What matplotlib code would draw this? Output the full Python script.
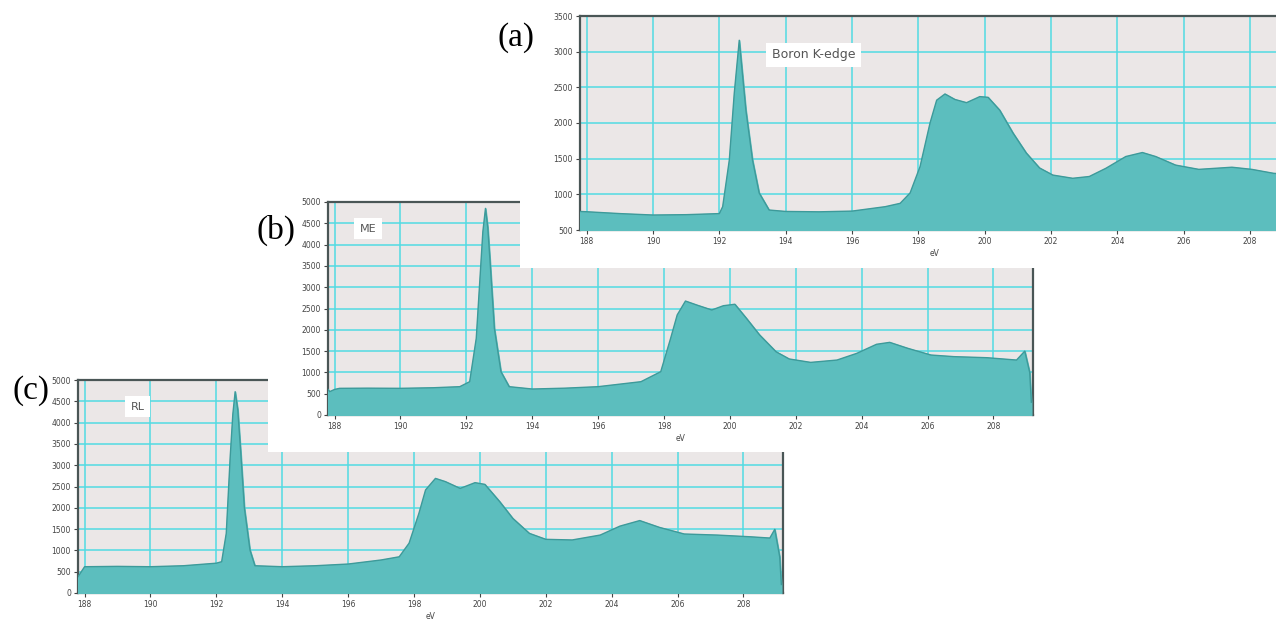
import matplotlib.pyplot as plt
from matplotlib.patches import Rectangle
import numpy as np

# --- data (energy in eV, counts) ---
ev_a = [187.8, 188.0, 189.0, 190.0, 191.0, 192.0, 192.1, 192.3, 192.45, 192.6, 192.8, 193.0, 193.2,
        193.5, 194.0, 195.0, 196.0, 197.0, 197.45, 197.75, 198.05, 198.35, 198.55, 198.8, 199.1,
        199.45, 199.85, 200.1, 200.45, 200.85, 201.25, 201.65, 202.05, 202.65, 203.15, 203.65,
        204.25, 204.75, 205.15, 205.75, 206.45, 207.45, 208.05, 208.7, 209.1]
counts_a = [760, 756, 730, 710, 715, 730, 827, 1480, 2420, 3160, 2180, 1480, 1020,
            780, 760, 755, 765, 827, 874, 1020, 1390, 2000, 2320, 2407, 2330,
            2285, 2370, 2360, 2180, 1860, 1580, 1370, 1270, 1225, 1250, 1365,
            1530, 1586, 1530, 1410, 1350, 1380, 1350, 1295, 1280]

ev_b = [187.8, 187.85, 188.0, 188.15, 189.0, 190.0, 191.0, 191.8, 192.1, 192.3, 192.42, 192.5,
        192.58, 192.65, 192.72, 192.85, 193.05, 193.3, 194.0, 195.0, 196.0, 197.3, 197.9, 198.2,
        198.4, 198.65, 199.0, 199.45, 199.8, 200.15, 200.5, 200.9, 201.4, 201.8, 202.45, 203.25,
        203.85, 204.45, 204.85, 205.4, 206.1, 206.8, 207.8, 208.7, 208.95, 209.1, 209.15]
counts_b = [600, 548, 600, 626, 630, 626, 640, 665, 782, 1800, 3300, 4300,
            4850, 4400, 3600, 2035, 1017, 665, 610, 630, 665, 782, 1017, 1800,
            2350, 2675, 2580, 2465, 2565, 2600, 2270, 1880, 1485, 1315, 1235, 1290,
            1447, 1660, 1705, 1565, 1408, 1370, 1345, 1290, 1500, 1000, 300]

ev_c = [187.8, 188.0, 189.0, 190.0, 191.0, 192.0, 192.16, 192.3, 192.42, 192.5, 192.57, 192.65,
        192.74, 192.85, 193.02, 193.17, 194.0, 195.0, 196.0, 197.0, 197.55, 197.85, 198.15,
        198.35, 198.65, 198.95, 199.4, 199.85, 200.15, 200.6, 201.0, 201.5, 202.0, 202.8,
        203.65, 204.25, 204.85, 205.45, 206.2, 207.2, 208.2, 208.8, 208.95, 209.1, 209.15]
counts_c = [383, 617, 625, 617, 640, 700, 735, 1400, 3200, 4200, 4725, 4300,
            3300, 2000, 1010, 640, 617, 640, 680, 775, 850, 1170, 1875,
            2420, 2690, 2615, 2455, 2590, 2550, 2145, 1750, 1400, 1260, 1245,
            1360, 1570, 1700, 1540, 1385, 1360, 1320, 1290, 1495, 850, 200]

xticks = [188, 190, 192, 194, 196, 198, 200, 202, 204, 206, 208]
yticks_a = [500, 1000, 1500, 2000, 2500, 3000, 3500]
yticks_bc = [0, 500, 1000, 1500, 2000, 2500, 3000, 3500, 4000, 4500, 5000]

W, H = 1276, 625
FILL = '#5cbebe'
EDGE = '#3d9a9a'
GRID = '#52dbe2'
BG = '#ebe7e7'


def px_axes(fig, left, top, width, height, z):
    # place an axes using pixel coordinates measured from the top-left corner
    return fig.add_axes([left / W, (H - top - height) / H, width / W, height / H], zorder=z)


def white_box(fig, left, top, width, height, z):
    fig.patches.append(Rectangle((left / W, (H - top - height) / H), width / W, height / H,
                                 transform=fig.transFigure, facecolor='white',
                                 edgecolor='none', zorder=z))


def draw_panel(ax, ev, counts, ylim, yticks, tag):
    ax.set_facecolor(BG)
    ax.fill_between(ev, ylim[0], counts, color=FILL, zorder=3)
    ax.plot(ev, counts, color=EDGE, linewidth=1.0, zorder=4, solid_joinstyle='round')
    ax.set_xlim(187.8, 209.2)
    ax.set_ylim(*ylim)
    ax.set_xticks(xticks)
    ax.set_yticks(yticks)
    ax.grid(True, color=GRID, linewidth=1.1, zorder=1)
    ax.set_axisbelow(True)
    for s in ax.spines.values():
        s.set_color('#4a5656')
        s.set_linewidth(1.6)
    ax.tick_params(labelsize=5.5, length=3, width=0.8, colors='#444444', pad=2)
    ax.set_xlabel('eV', fontsize=5.5, color='#444444', labelpad=2)
    ax.text(tag[0], tag[1], tag[2], transform=ax.transAxes, fontsize=tag[3],
            color='#555555', va='center', ha='left', zorder=6,
            bbox=dict(facecolor='white', edgecolor='none', pad=4))


fig = plt.figure(figsize=(W / 100, H / 100), dpi=100)

# (c) bottom-left screenshot
ax_c = px_axes(fig, 78, 380, 705, 213, 1)
draw_panel(ax_c, ev_c, counts_c, (0, 5000), yticks_bc, (0.075, 0.875, 'RL', 8))

# (b) middle screenshot, laid over (c)
white_box(fig, 268, 190, 768, 262, 2)
ax_b = px_axes(fig, 328, 202, 705, 213, 3)
draw_panel(ax_b, ev_b, counts_b, (0, 5000), yticks_bc, (0.045, 0.875, 'ME', 8))

# (a) top-right screenshot, laid over (b), cut at the figure edge
white_box(fig, 520, 0, 760, 268, 4)
ax_a = px_axes(fig, 580, 16, 710, 214, 5)
draw_panel(ax_a, ev_a, counts_a, (500, 3500), yticks_a, (0.27, 0.82, 'Boron K-edge', 9))

for label, x, y in [('(a)', 516, 38), ('(b)', 276, 230), ('(c)', 31, 391)]:
    fig.text(x / W, 1 - y / H, label, fontsize=24, family='Liberation Serif',
             ha='center', va='center', zorder=10)

plt.savefig('out.png', dpi=100)
